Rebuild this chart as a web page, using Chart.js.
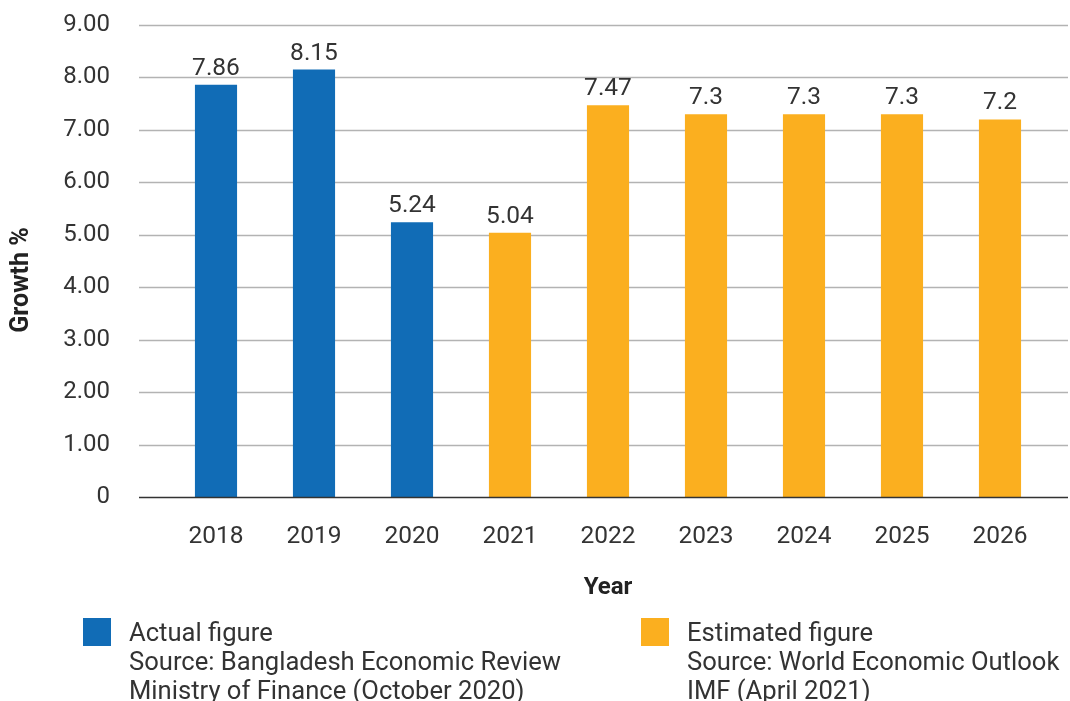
<!DOCTYPE html>
<html>
<head>
<meta charset="utf-8">
<script src="https://cdn.jsdelivr.net/npm/chart.js@4"></script>
<style>
    html, body { margin: 0; padding: 0; background: #fff; }
    #wrap { position: relative; width: 1070px; height: 701px; overflow: hidden; font-family: Roboto, sans-serif; }
    #growthChart { position: absolute; left: 0; top: 0; }
    .legend-item { position: absolute; top: 618px; color: #333; font-size: 25.6px; line-height: 29px; }
    .legend-box { position: absolute; top: 0; width: 28px; height: 28px; }
    .legend-text { position: absolute; top: 0; white-space: nowrap; }
</style>
</head>
<body>
<div id="wrap">
    <canvas id="growthChart" width="1070" height="701"></canvas>
    <div class="legend-item" style="left:83px;">
        <div class="legend-box" style="left:0; background:#116CB6;"></div>
        <div class="legend-text" style="left:46px;">Actual figure<br>Source: Bangladesh Economic Review<br>Ministry of Finance (October 2020)</div>
    </div>
    <div class="legend-item" style="left:641px;">
        <div class="legend-box" style="left:0; background:#FBAF1F;"></div>
        <div class="legend-text" style="left:46px;">Estimated figure<br>Source: World Economic Outlook<br>IMF (April 2021)</div>
    </div>
</div>
<script>
// ============================================================
// GDP growth — actual vs estimated
// ============================================================

var years = ['2018', '2019', '2020', '2021', '2022', '2023', '2024', '2025', '2026'];
var growth = [7.86, 8.15, 5.24, 5.04, 7.47, 7.3, 7.3, 7.3, 7.2];
var figureType = ['actual', 'actual', 'actual', 'estimated', 'estimated', 'estimated', 'estimated', 'estimated', 'estimated'];
var yTickLabels = ['0', '1.00', '2.00', '3.00', '4.00', '5.00', '6.00', '7.00', '8.00', '9.00'];
var yTitle = 'Growth %';

var BLUE = '#116CB6';
var ORANGE = '#FBAF1F';
var TEXT = '#333333';

var barColors = figureType.map(function(t) { return t === 'actual' ? BLUE : ORANGE; });

// Gridlines run a bit wider than the category band, so draw them here
var gridPlugin = {
    id: 'wideGrid',
    beforeDatasetsDraw: function(chart) {
        var ctx = chart.ctx;
        var area = chart.chartArea;
        var y = chart.scales.y;
        ctx.save();
        ctx.strokeStyle = '#b3b3b3';
        ctx.lineWidth = 1.5;
        for (var v = 1; v < yTickLabels.length; v++) {
            var py = Math.round(y.getPixelForValue(v)) + 0.5;
            ctx.beginPath();
            ctx.moveTo(area.left - 28, py);
            ctx.lineTo(area.right + 19, py);
            ctx.stroke();
        }
        ctx.restore();
    },
    afterDatasetsDraw: function(chart) {
        var ctx = chart.ctx;
        var area = chart.chartArea;
        var y = chart.scales.y;
        ctx.save();
        // zero line
        var py0 = Math.round(y.getPixelForValue(0)) + 0.5;
        ctx.strokeStyle = '#333';
        ctx.lineWidth = 1.5;
        ctx.beginPath();
        ctx.moveTo(area.left - 28, py0);
        ctx.lineTo(area.right + 19, py0);
        ctx.stroke();

        // value labels
        ctx.fillStyle = TEXT;
        ctx.font = '24.5px Roboto, sans-serif';
        ctx.textAlign = 'center';
        ctx.textBaseline = 'alphabetic';
        chart.getDatasetMeta(0).data.forEach(function(bar, i) {
            ctx.fillText(String(growth[i]), bar.x, bar.y - 10);
        });

        // y title sits a little below the axis middle in the original
        ctx.translate(22, y.getPixelForValue(4.5) + 19);
        ctx.rotate(-Math.PI / 2);
        ctx.fillStyle = '#222';
        ctx.font = 'bold 25px Roboto, sans-serif';
        ctx.textBaseline = 'middle';
        ctx.fillText(yTitle, 0, 0);
        ctx.restore();
    }
};

var ctx = document.getElementById('growthChart').getContext('2d');
var chart = new Chart(ctx, {
    type: 'bar',
    data: {
        labels: years,
        datasets: [{
            label: yTitle,
            data: growth,
            backgroundColor: barColors,
            borderWidth: 0,
            barPercentage: 0.43,
            categoryPercentage: 1
        }]
    },
    options: {
        responsive: false,
        animation: false,
        layout: { padding: { left: 0, right: 21, top: 25, bottom: 0 } },
        plugins: {
            legend: { display: false },
            tooltip: { enabled: false }
        },
        scales: {
            x: {
                grid: { display: false, drawTicks: false },
                border: { display: false },
                ticks: {
                    color: TEXT,
                    font: { family: 'Roboto', size: 24.5 },
                    padding: 25,
                    maxRotation: 0
                },
                title: {
                    display: true,
                    text: 'Year',
                    color: '#222',
                    font: { family: 'Roboto', size: 24, weight: 'bold' },
                    padding: { top: 0, bottom: 99 }
                },
                afterFit: function(scale) { scale.height = 204; }
            },
            y: {
                min: 0,
                max: 9,
                grid: { display: false, drawTicks: false },
                border: { display: false },
                ticks: {
                    stepSize: 1,
                    color: TEXT,
                    font: { family: 'Roboto', size: 24 },
                    padding: 57,
                    callback: function(value, index) { return yTickLabels[index]; }
                },
                title: { display: false },
                afterFit: function(scale) {
                    // tick padding would otherwise push the plot area down
                    scale.width = 167;
                    scale.paddingTop = 0;
                    scale.paddingBottom = 0;
                }
            }
        }
    },
    plugins: [gridPlugin]
});
</script>
</body>
</html>
